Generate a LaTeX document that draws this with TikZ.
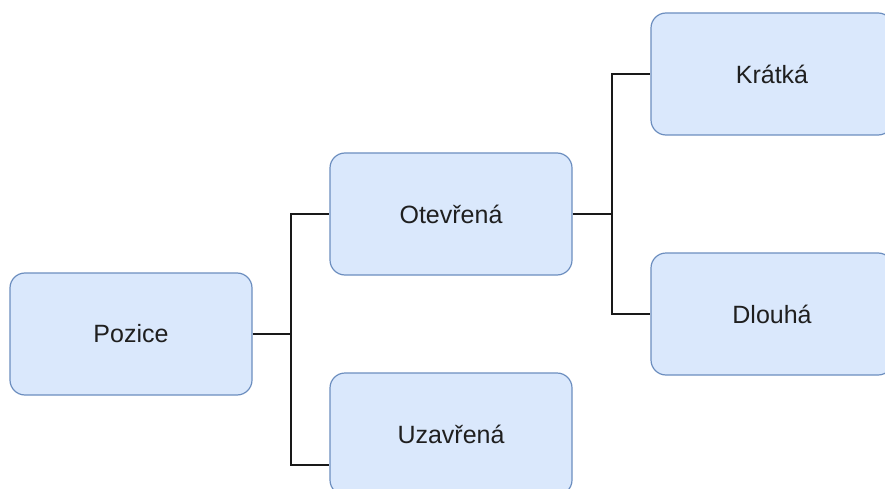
\documentclass[tikz,border=0pt]{standalone}
\usepackage{fontspec}
\setmainfont{Liberation Sans}
\usetikzlibrary{positioning}

\definecolor{boxfill}{HTML}{DAE8FC}
\definecolor{boxline}{HTML}{6C8EBF}

\tikzset{
   choice/.style={draw=boxline, fill=boxfill, line width=1.2pt,
      rounded corners=15pt, minimum width=242pt, minimum height=122pt,
      inner sep=0pt, text=black!88, font=\fontsize{25}{30}\selectfont},
   link/.style={line width=1.2pt, black!90}
}

\begin{document}
\begin{tikzpicture}[x=1pt, y=-1pt]

      \useasboundingbox (0,0) rectangle (885,489);

      \node [choice] (pozice)   at (131,334) {Pozice};
      \node [choice] (otevrena) at (451,214) {Otevřená};
      \node [choice] (uzavrena) at (451,434) {Uzavřená};
      \node [choice] (kratka)   at (772,74)  {Krátká};
      \node [choice] (dlouha)   at (772,314) {Dlouhá};

      \coordinate (fork1) at (291,334);
      \coordinate (fork2) at (612,214);
      \coordinate (uzavrena-in) at ([yshift=-31pt]uzavrena.west);

      \draw [link] (pozice.east) -- (fork1) |- (otevrena.west);
      \draw [link] (fork1) |- (uzavrena-in);

      \draw [link] (otevrena.east) -- (fork2) |- (kratka.west);
      \draw [link] (fork2) |- (dlouha.west);

   \end{tikzpicture}
\end{document}
